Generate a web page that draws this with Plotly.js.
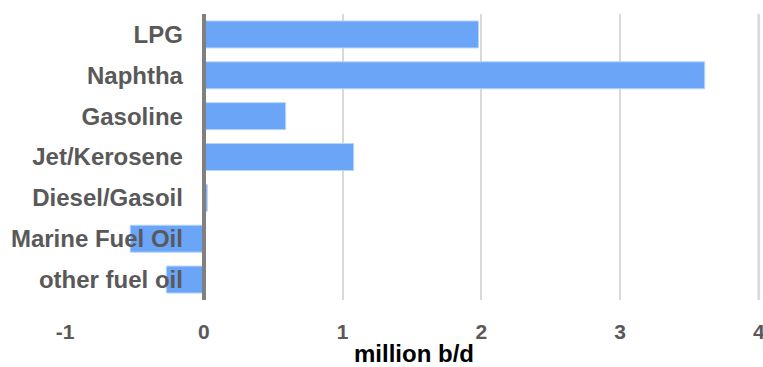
<!DOCTYPE html>
<html>
<head>
<meta charset="utf-8">
<script src="https://cdn.plot.ly/plotly-3.0.1.min.js"></script>
<style>html,body{margin:0;padding:0;background:#fff;}#chart{width:763px;height:367px;}</style>
</head>
<body>
<div id="chart"></div>
<script>
const categories = ["LPG", "Naphtha", "Gasoline", "Jet/Kerosene", "Diesel/Gasoil", "Marine Fuel Oil", "other fuel oil"];
const values = [1.98, 3.61, 0.59, 1.08, 0.025, -0.53, -0.27];
const xTickVals = [-1, 0, 1, 2, 3, 4];
const xTickText = ["-1", "0", "1", "2", "3", "4"];
const xTitle = "million b/d";

const fontFam = "Liberation Sans, Arial, sans-serif";
const xMax = xTickVals[xTickVals.length - 1];

Plotly.newPlot("chart", [{
  type: "bar",
  orientation: "h",
  y: categories,
  x: values,
  marker: {color: "#6aa5f8", line: {color: "#b8d4fb", width: 1}},
  hoverinfo: "x+y"
}], {
  width: 763,
  height: 367,
  margin: {l: 65, r: 0, t: 14, b: 67},
  paper_bgcolor: "#fff",
  plot_bgcolor: "#fff",
  bargap: 0.34,
  showlegend: false,
  shapes: [{
    type: "line", layer: "below", xref: "x", yref: "paper",
    x0: xMax, x1: xMax, y0: 0, y1: 1,
    line: {color: "#c8c8c8", width: 2.5}
  }],
  xaxis: {
    range: [-1, 4.03],
    tickvals: xTickVals,
    ticktext: xTickText,
    showgrid: true,
    gridcolor: "#d9d9d9",
    gridwidth: 2,
    zeroline: false,
    showline: false,
    ticks: "",
    ticklabelstandoff: 17,
    ticklabeloverflow: "allow",
    tickfont: {family: fontFam, size: 21, color: "#595959", weight: "bold"},
    title: {text: xTitle, standoff: 3, font: {family: fontFam, size: 24, color: "#000", weight: "bold"}}
  },
  yaxis: {
    type: "category",
    autorange: "reversed",
    anchor: "free",
    position: 0.1988,
    showline: true,
    linecolor: "#808080",
    linewidth: 4,
    showgrid: false,
    zeroline: false,
    ticks: "",
    ticklabelstandoff: 14,
    tickfont: {family: fontFam, size: 24, color: "#595959", weight: "bold"}
  }
}, {displayModeBar: false, staticPlot: true});
</script>
</body>
</html>
